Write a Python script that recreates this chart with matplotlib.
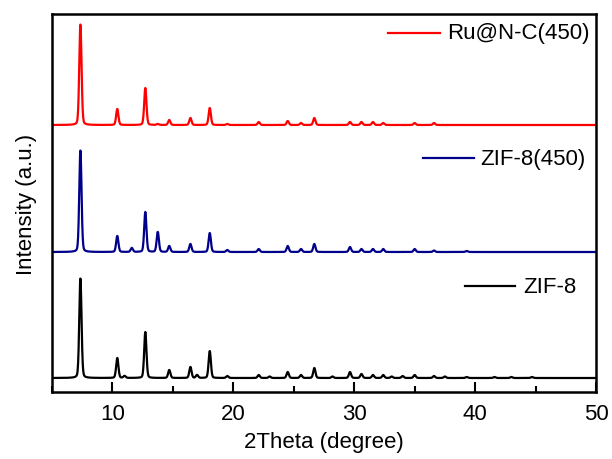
import numpy as np
import matplotlib
matplotlib.use("Agg")
import matplotlib.pyplot as plt

plt.rcParams['font.family'] = ['Liberation Sans', 'DejaVu Sans']

# Peak positions (2theta, degree) and heights (a.u.)
zif8_pos = [7.35, 10.4, 11.0, 12.72, 14.7, 16.45, 17.0, 18.05, 19.5, 22.1, 23.0,
            24.5, 25.6, 26.7, 28.2, 29.65, 30.6, 31.55, 32.4, 33.1, 34.0, 35.0,
            36.6, 37.5, 39.3, 41.6, 43.0, 44.7]
zif8_h = [100, 20, 2, 46, 8, 11, 3, 27, 2, 3, 1.5,
          6, 3, 10, 1.5, 6, 4, 3, 3, 1.5, 2, 3,
          2, 1.5, 1, 1, 1, 1]

zif8_450_pos = [7.35, 10.4, 11.6, 12.72, 13.75, 14.7, 16.45, 18.05, 19.5, 22.1,
                24.5, 25.6, 26.7, 29.65, 30.6, 31.55, 32.4, 35.0, 36.6, 39.3]
zif8_450_h = [102, 16, 4, 40, 20, 6, 8, 19, 2, 3,
              6, 3, 8, 5, 3, 3, 3, 3, 1.5, 1]

ru_pos = [7.35, 10.4, 12.72, 13.75, 14.7, 16.45, 18.05, 19.5, 22.1, 24.5,
          25.6, 26.7, 29.65, 30.6, 31.55, 32.4, 35.0, 36.6]
ru_h = [101, 16, 37, 1, 5, 7, 17, 1, 3, 4,
        2, 7, 3, 3, 3, 2, 2, 2]

offsets = [14, 140, 267]
labels = ['ZIF-8', 'ZIF-8(450)', 'Ru@N-C(450)']
colors = ['#000000', '#00008B', '#FF0000']

two_theta = np.arange(5.0, 50.0001, 0.02)


def pattern(pos, h, fwhm=0.22, eta=0.2):
    y = np.zeros_like(two_theta)
    s = fwhm / 2.3548
    g = fwhm / 2
    for p, a in zip(pos, h):
        gauss = np.exp(-0.5 * ((two_theta - p) / s) ** 2)
        lor = g ** 2 / ((two_theta - p) ** 2 + g ** 2)
        y += a * ((1 - eta) * gauss + eta * lor)
    return y


series = [(zif8_pos, zif8_h), (zif8_450_pos, zif8_450_h), (ru_pos, ru_h)]

fig = plt.figure(figsize=(6.12, 4.6), dpi=100)
ax = fig.add_axes([52 / 612, 67 / 460, 544 / 612, 378 / 460])

for (pos, h), off, c in zip(series, offsets, colors):
    ax.plot(two_theta, pattern(pos, h) + off, color=c, lw=1.6)

ax.set_xlim(5, 50)
ax.set_ylim(0, 378)
ax.set_xticks([10, 20, 30, 40, 50])
ax.set_xticks(np.arange(5, 50, 5), minor=True)
ax.set_yticks([])
ax.tick_params(axis='x', which='major', direction='in', length=7, width=1.5,
               labelsize=16, pad=8, top=False)
ax.tick_params(axis='x', which='minor', direction='in', length=4, width=1.5, top=False)
for sp in ax.spines.values():
    sp.set_linewidth(1.8)

ax.set_xlabel('2Theta (degree)', fontsize=16, labelpad=5)
ax.set_ylabel('Intensity (a.u.)', fontsize=16, labelpad=11)

# in-plot labels: (line x-range, y, text x) in axes fraction
leg_map = {'Ru@N-C(450)': ((0.618, 0.713), 0.950, 0.726),
           'ZIF-8(450)': ((0.682, 0.776), 0.619, 0.787),
           'ZIF-8': ((0.759, 0.851), 0.280, 0.866)}
for lab, c in zip(labels, colors):
    xs, yl, xt = leg_map[lab]
    ax.plot(xs, [yl, yl], color=c, lw=1.6, transform=ax.transAxes)
    ax.text(xt, yl, lab, transform=ax.transAxes, fontsize=16, va='center', ha='left')

fig.savefig('out.png', dpi=100)
